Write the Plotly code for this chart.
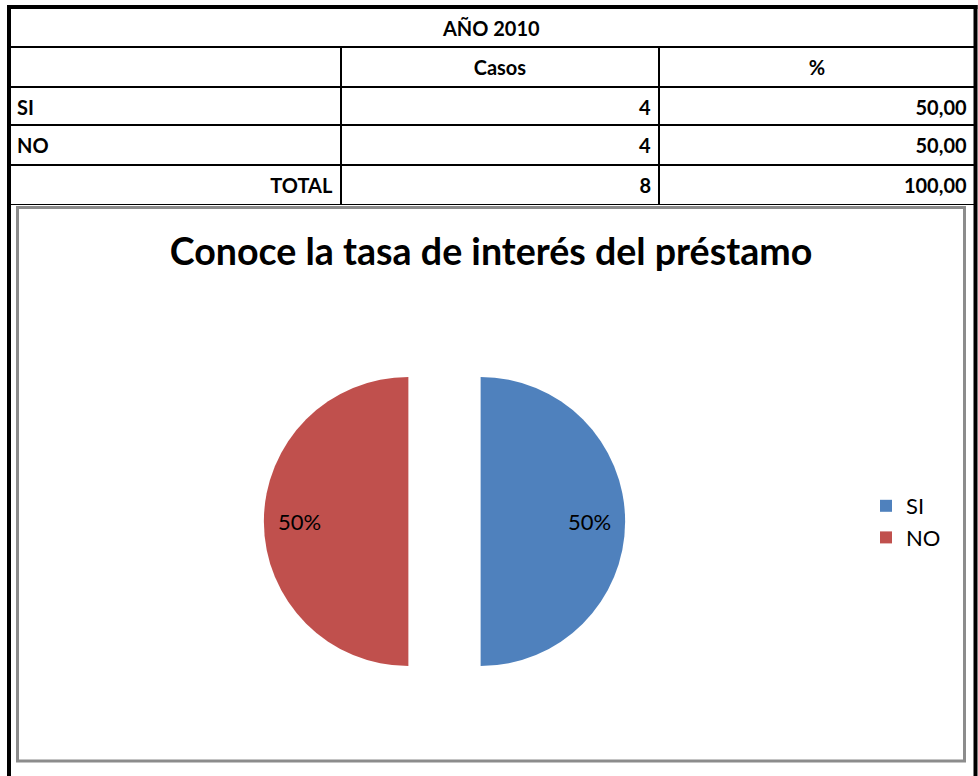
import plotly.graph_objects as go

# ---- data ----
year_label = "AÑO 2010"
categories = ["SI", "NO"]
casos = [4, 4]
porcentajes = [50.00, 50.00]
col_headers = ["", "Casos", "%"]
total_label = "TOTAL"
chart_title = "Conoce la tasa de interés del préstamo"
colors = ["#4F81BD", "#C0504D"]

W, H = 978, 776
def px(x):
    return x / W
def py(y):
    return 1 - y / H

def fmt(v):
    return f"{v:.2f}".replace(".", ",")

def b(s):
    return f"<b>{s}</b>"

total_casos = sum(casos)
total_pct = sum(porcentajes)

FONT = "Lato, Carlito, Calibri, sans-serif"
tfont = dict(family=FONT, size=20, color="black")
tline = dict(color="black", width=2)
widths = [332, 318, 316]
ROW = 39

fig = go.Figure()

# Row: AÑO 2010 (merged across the table)
fig.add_trace(go.Table(
    domain=dict(x=[px(9), px(975)], y=[py(92), py(8)]),
    header=dict(values=[b(year_label)], align="center", height=ROW,
                fill_color="white", line=tline, font=tfont),
    cells=dict(values=[[""]], height=ROW, fill_color="white", line=tline, font=tfont),
))

# Column headers + first category
fig.add_trace(go.Table(
    domain=dict(x=[px(9), px(975)], y=[py(131), py(47)]),
    columnwidth=widths,
    header=dict(values=[b(h) for h in col_headers], align="center", height=ROW,
                fill_color="white", line=tline, font=tfont),
    cells=dict(values=[[b(categories[0])], [b(casos[0])], [b(fmt(porcentajes[0]))]],
               align=["left", "right", "right"], height=ROW,
               fill_color="white", line=tline, font=tfont),
))

# Second category + TOTAL
fig.add_trace(go.Table(
    domain=dict(x=[px(9), px(975)], y=[py(206), py(125)]),
    columnwidth=widths,
    header=dict(values=[b(categories[1]), b(casos[1]), b(fmt(porcentajes[1]))],
                align=["left", "right", "right"], height=ROW,
                fill_color="white", line=tline, font=tfont),
    cells=dict(values=[[b(total_label)], [b(total_casos)], [b(fmt(total_pct))]],
               align="right", height=38, fill_color="white", line=tline, font=tfont),
))

# Pie
cx, cy, r, pull = 444.5, 521.5, 144.5, 0.25
half = r * (1 + pull)
pad = "\u00a0" * 13
fig.add_trace(go.Pie(
    labels=categories, values=casos, sort=False, direction="clockwise", rotation=0,
    marker=dict(colors=colors, line=dict(width=0)),
    pull=[pull, pull], textposition="inside",
    texttemplate=[pad + "%{percent:.0%}", "%{percent:.0%}" + pad],
    insidetextorientation="horizontal",
    textfont=dict(family=FONT, size=22, color="black"),
    domain=dict(x=[px(cx - half), px(cx + half)], y=[py(cy + half), py(cy - half)]),
    hoverinfo="label+value+percent",
))

shapes = [
    # chart box
    dict(type="rect", xref="paper", yref="paper", x0=px(17.5), x1=px(964.5), y0=py(761), y1=py(207.5),
         line=dict(color="#8C8C8C", width=3), layer="above"),
    # outer thick frame
    dict(type="line", xref="paper", yref="paper", x0=px(9), x1=px(9), y0=0, y1=py(5),
         line=dict(color="black", width=4)),
    dict(type="line", xref="paper", yref="paper", x0=px(975.5), x1=px(975.5), y0=0, y1=py(5),
         line=dict(color="black", width=4)),
    dict(type="line", xref="paper", yref="paper", x0=px(7), x1=px(977.5), y0=py(7), y1=py(7),
         line=dict(color="black", width=4)),
]

fig.update_layout(
    width=W, height=H, margin=dict(l=0, r=0, t=0, b=0),
    paper_bgcolor="white", plot_bgcolor="white",
    shapes=shapes,
    title=dict(text=b(chart_title), x=px(491), xanchor="center", y=py(252), yanchor="middle",
               font=dict(family=FONT, size=37.6, color="black")),
    showlegend=True,
    legend=dict(x=px(866), xanchor="left", y=py(522), yanchor="middle",
                font=dict(family=FONT, size=22, color="black"), bgcolor="rgba(0,0,0,0)",
                itemclick=False),
)

fig.write_html("out.html", config={"displayModeBar": False},
               post_script="document.body.style.margin='0';document.body.style.overflow='hidden';")
